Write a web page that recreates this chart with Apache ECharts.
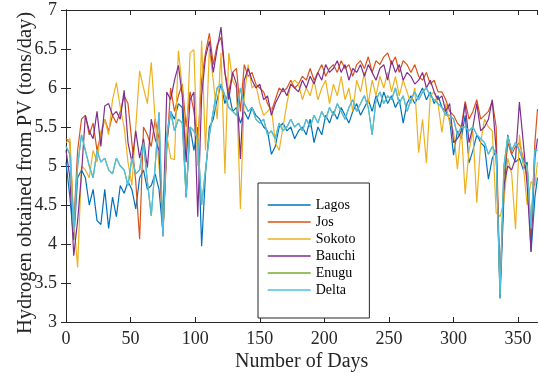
<!DOCTYPE html>
<html>
<head>
<meta charset="utf-8">
<script src="https://cdn.jsdelivr.net/npm/echarts@6/dist/echarts.min.js"></script>
<style>
  html, body { margin: 0; padding: 0; background: #fff; }
  #chart { width: 539px; height: 373px; }
</style>
</head>
<body>
<div id="chart"></div>
<script>
// Sample days (every third day of the year, plus the last day)
const days = [0,3,6,9,12,15,18,21,24,27,30,33,36,39,42,45,48,51,54,57,60,63,66,69,72,75,78,81,84,87,90,93,96,99,102,105,108,111,114,117,120,123,126,129,132,135,138,141,144,147,150,153,156,159,162,165,168,171,174,177,180,183,186,189,192,195,198,201,204,207,210,213,216,219,222,225,228,231,234,237,240,243,246,249,252,255,258,261,264,267,270,273,276,279,282,285,288,291,294,297,300,303,306,309,312,315,318,321,324,327,330,333,336,339,342,345,348,351,354,357,360,363,365];

// Hydrogen obtained from PV (tons/day) for each site
const lagos = [5.05,4.6,4.05,4.85,4.95,4.85,4.5,4.7,4.3,4.25,4.7,4.2,4.6,4.35,4.75,4.65,4.8,4.7,4.45,4.85,4.95,4.7,4.75,4.9,4.7,4.15,5.3,5.7,5.6,5.8,5.75,4.6,5.5,5.2,5.5,3.97,4.9,5.5,5.6,5.85,6.05,5.8,5.95,5.7,5.75,5.55,5.7,5.6,5.75,5.65,5.6,5.5,5.45,5.15,5.25,5.5,5.55,5.45,5.5,5.35,5.45,5.5,5.4,5.6,5.3,5.5,5.4,5.65,5.55,5.7,5.6,5.75,5.65,5.55,5.7,5.8,5.65,5.75,5.85,5.7,5.9,5.75,5.95,5.8,5.9,5.75,5.85,5.55,5.8,5.9,5.8,5.9,6.0,5.85,5.95,5.8,5.9,5.75,5.7,5.6,5.14,5.45,5.35,5.65,5.04,5.2,5.4,5.3,5.25,4.83,5.1,5.2,3.3,4.6,5.4,5.15,5.05,5.1,4.95,5.05,3.9,4.6,4.85];

const jos = [5.35,5.3,4.25,5.2,5.6,5.65,5.4,5.55,5.2,5.4,5.6,5.45,5.65,5.55,5.7,5.9,5.8,5.3,4.8,4.06,5.5,5.4,5.25,5.6,5.35,4.1,5.2,6.0,5.7,5.9,6.05,5.5,5.95,5.7,5.3,6.1,6.45,6.7,6.3,6.55,6.65,6.2,5.95,6.2,6.25,5.7,6.3,6.15,6.2,6.05,6.0,5.95,5.8,5.7,5.85,6.0,5.95,6.0,6.1,6.0,6.05,6.15,6.1,6.25,6.1,6.2,6.3,6.15,6.25,6.3,6.2,6.35,6.25,6.3,6.15,6.3,6.35,6.25,6.4,6.2,6.35,6.3,6.4,6.45,6.3,6.4,6.2,6.35,6.3,6.2,6.3,6.15,6.1,6.2,6.05,6.1,5.95,5.95,5.85,5.7,5.65,5.55,5.5,5.83,5.6,5.7,5.85,5.6,5.65,5.7,5.83,5.5,3.42,4.85,5.3,5.15,5.25,5.3,5.1,4.85,4.1,5.3,5.73];

const sokoto = [5.3,5.35,4.3,3.7,5.0,4.95,4.85,5.2,5.05,5.45,5.6,5.4,5.85,6.07,5.75,5.5,5.05,4.75,5.5,6.22,6.0,5.8,6.33,5.6,5.0,4.3,5.4,5.1,5.08,6.48,6.0,5.21,6.45,6.49,5.0,6.61,5.2,6.5,6.1,5.6,6.45,4.9,6.45,6.1,6.0,4.45,5.9,6.3,6.0,6.05,5.8,5.65,5.7,5.75,5.3,5.2,5.5,5.8,6.05,6.1,6.05,5.85,6.0,5.9,6.1,5.85,6.0,6.1,5.8,6.05,5.9,6.15,5.85,6.0,5.7,6.1,5.95,6.2,5.8,6.1,5.9,6.15,6.0,6.2,5.95,6.15,5.9,6.1,5.95,5.8,6.0,5.17,5.6,5.04,5.9,5.95,5.8,5.43,5.8,5.55,5.45,4.96,5.5,4.64,5.2,5.45,4.53,5.3,5.6,5.5,5.45,4.4,4.35,4.55,5.1,4.9,4.19,5.4,5.0,4.5,4.8,4.75,5.05];

const bauchi = [5.2,4.85,3.85,4.3,4.9,5.65,5.45,5.35,5.7,5.25,5.77,5.8,5.65,5.7,5.6,5.97,5.3,5.05,5.45,5.1,5.35,4.98,5.6,5.35,5.2,4.23,5.95,5.85,6.1,6.29,5.9,5.05,5.85,5.95,4.35,5.9,6.4,6.6,6.2,6.5,6.78,6.2,5.85,6.2,6.05,5.09,6.1,6.25,6.1,6.0,6.05,5.85,5.9,5.65,5.8,5.9,6.0,5.9,6.05,6.0,5.95,6.1,6.0,6.15,6.05,6.2,6.1,6.3,6.2,6.25,6.35,6.2,6.3,6.1,6.25,6.2,6.3,6.15,6.3,6.2,6.1,6.25,6.3,6.1,6.35,6.2,6.3,6.1,6.2,6.15,6.05,6.1,6.2,6.0,6.1,5.95,5.85,5.9,5.7,5.8,5.3,5.35,5.45,5.8,5.3,5.5,5.8,5.45,5.5,5.6,5.85,5.2,3.42,4.75,5.0,4.95,5.1,5.82,5.3,4.75,3.9,5.1,5.35];

const delta = [5.25,5.15,4.15,5.0,5.4,5.2,5.0,4.85,5.2,5.05,5.1,4.95,4.9,5.1,5.0,4.95,4.75,5.1,4.9,4.95,5.3,4.8,4.36,5.0,5.69,4.1,5.4,5.7,5.45,5.6,5.55,4.6,5.5,5.45,5.35,4.5,4.95,5.4,5.7,6.0,6.05,5.9,5.75,5.7,5.65,6.0,5.8,5.7,5.75,5.6,5.55,5.6,5.4,5.45,5.35,5.55,5.45,5.5,5.6,5.5,5.55,5.45,5.6,5.5,5.65,5.55,5.7,5.6,5.75,5.65,5.8,5.7,5.6,5.75,5.85,5.7,5.8,5.9,5.75,5.4,5.85,5.95,5.8,5.9,5.85,6.0,5.8,5.9,5.7,5.85,5.95,5.85,5.95,6.0,5.9,5.85,5.8,5.75,5.65,5.65,5.6,5.4,5.5,5.5,5.45,5.5,5.4,5.35,5.3,5.15,5.25,5.15,3.35,5.0,5.38,5.2,5.3,5.2,5.05,5.0,4.2,5.2,5.2];

// Enugu's daily yield coincides with Delta's, so it lies underneath that line
const enugu = delta.slice();

const siteNames = ['Lagos', 'Jos', 'Sokoto', 'Bauchi', 'Enugu', 'Delta'];
const siteValues = [lagos, jos, sokoto, bauchi, enugu, delta];
const siteColors = ['#0072BD', '#D95319', '#EDB120', '#7E2F8E', '#77AC30', '#4DBEEE'];

const xTicks = { min: 0, max: 365, interval: 50 };
const yTicks = { min: 3, max: 7, interval: 0.5 };

const axisInk = '#262626';
const serif = '"Liberation Serif", "Times New Roman", serif';

function frameAxis(extra) {
  return Object.assign({
    type: 'value',
    axisLine: { show: true, lineStyle: { color: axisInk, width: 1 } },
    axisTick: { show: true, inside: true, length: 5, lineStyle: { color: axisInk } },
    splitLine: { show: false }
  }, extra);
}

const chart = echarts.init(document.getElementById('chart'), null, { renderer: 'canvas' });

chart.setOption({
  animation: false,
  backgroundColor: '#ffffff',
  grid: { left: 66, right: 1.5, top: 10, bottom: 51, containLabel: false, outerBoundsMode: 'none' },
  xAxis: [
    frameAxis({
      position: 'bottom',
      min: xTicks.min, max: xTicks.max, interval: xTicks.interval,
      name: 'Number of Days', nameLocation: 'middle', nameGap: 30, nameMoveOverlap: false,
      nameTextStyle: { fontFamily: serif, fontSize: 20, color: axisInk },
      axisLabel: { fontFamily: serif, fontSize: 18, color: axisInk, margin: 8,
        showMaxLabel: false }
    }),
    frameAxis({
      position: 'top',
      min: xTicks.min, max: xTicks.max, interval: xTicks.interval,
      axisLabel: { show: false }
    })
  ],
  yAxis: [
    frameAxis({
      position: 'left',
      min: yTicks.min, max: yTicks.max, interval: yTicks.interval,
      name: 'Hydrogen obtained from PV (tons/day)', nameLocation: 'middle', nameGap: 30,
      nameMoveOverlap: false,
      nameTextStyle: { fontFamily: serif, fontSize: 20.5, color: axisInk, padding: [0, 14, 0, 0] },
      axisLabel: { fontFamily: serif, fontSize: 18, color: axisInk, margin: 9 }
    }),
    frameAxis({
      position: 'right',
      min: yTicks.min, max: yTicks.max, interval: yTicks.interval,
      axisLabel: { show: false }
    })
  ],
  legend: {
    orient: 'vertical',
    left: 258, top: 183,
    padding: [15, 14, 21, 9],
    itemWidth: 43, itemHeight: 14, itemGap: 3,
    backgroundColor: '#ffffff',
    borderColor: axisInk, borderWidth: 1,
    itemStyle: { opacity: 0 },
    lineStyle: { width: 1.4 },
    textStyle: { fontFamily: serif, fontSize: 14, color: '#000000' },
    data: siteNames
  },
  series: siteNames.map((name, k) => ({
    name: name,
    type: 'line',
    xAxisIndex: 0,
    yAxisIndex: 0,
    symbol: 'none',
    showSymbol: false,
    smooth: false,
    lineStyle: { width: 1.2, color: siteColors[k] },
    itemStyle: { color: siteColors[k] },
    data: days.map((d, i) => [d, siteValues[k][i]])
  }))
});
</script>
</body>
</html>
